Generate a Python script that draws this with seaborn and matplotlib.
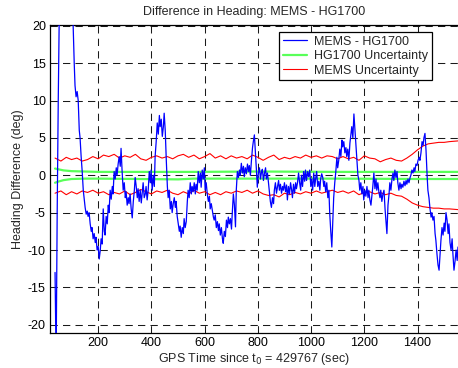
import matplotlib
matplotlib.use("Agg")
import matplotlib.pyplot as plt
import seaborn as sns
import pandas as pd

# ---------------- data ----------------
t_diff = [38, 42, 46, 50, 54, 60, 80, 102, 106, 110, 113, 117, 121, 125, 129, 132, 136, 140, 144, 147,
          151, 155, 159, 162, 166, 170, 174, 177, 181, 185, 189, 192, 196, 200, 204, 208,
          211, 215, 219, 223, 226, 230, 234, 238, 241, 245, 249, 253, 256, 260, 264, 268, 271, 275, 279,
          283, 286, 290, 294, 298, 302, 305, 309, 313, 316, 320, 324, 328, 332, 336, 339, 343, 347, 350,
          354, 358, 362, 365, 369, 373, 377, 380, 384, 388, 392, 396, 399, 403, 407, 411, 414, 418, 422,
          426, 430, 433, 437, 441, 445, 448, 452, 456, 460, 463, 467, 471, 475, 478, 482, 486, 490, 493,
          497, 501, 505, 508, 512, 516, 520, 523, 527, 531, 535, 538, 542, 546, 550, 553, 557, 561, 565,
          568, 572, 576, 580, 584, 587, 591, 595, 599, 602, 606, 610, 614, 618, 621, 625, 629, 633, 636,
          640, 644, 648, 652, 655, 659, 663, 667, 670, 674, 678, 682, 686, 689, 693, 697, 701, 704, 708,
          712, 716, 719, 723, 727, 731, 734, 738, 742, 746, 749, 753, 757, 761, 765, 768, 772, 776, 780,
          783, 787, 791, 795, 798, 802, 806, 810, 814, 817, 821, 825, 829, 832, 836, 840, 844, 847, 851,
          855, 859, 862, 866, 870, 874, 878, 881, 885, 889, 893, 896, 900, 904, 908, 911, 915, 919, 923,
          927, 930, 934, 938, 942, 945, 949, 953, 957, 961, 964, 968, 972, 976, 979, 983, 987, 991, 995,
          999, 1002, 1006, 1010, 1014, 1017, 1021, 1025, 1029, 1033, 1036, 1040, 1044, 1048, 1051, 1055,
          1059, 1063, 1067, 1070, 1074, 1078, 1082, 1085, 1089, 1093, 1097, 1100, 1104, 1108, 1112, 1116,
          1119, 1123, 1127, 1131, 1134, 1138, 1142, 1146, 1150, 1153, 1157, 1161, 1165, 1168, 1172, 1176,
          1180, 1183, 1187, 1191, 1195, 1198, 1202, 1206, 1210, 1214, 1217, 1221, 1225, 1229, 1232, 1236,
          1240, 1244, 1247, 1251, 1255, 1259, 1262, 1266, 1270, 1274, 1278, 1281, 1285, 1289, 1293, 1296,
          1300, 1304, 1308, 1311, 1315, 1319, 1323, 1326, 1330, 1334, 1338, 1341, 1345, 1349, 1353, 1357,
          1360, 1364, 1368, 1372, 1375, 1379, 1383, 1387, 1390, 1394, 1398, 1402, 1406, 1409, 1413, 1417,
          1421, 1424, 1428, 1432, 1436, 1439, 1443, 1447, 1451, 1454, 1458, 1462, 1466, 1469, 1473, 1477,
          1481, 1484, 1488, 1492, 1496, 1500, 1503, 1507, 1511, 1515, 1518, 1522, 1526, 1530, 1533, 1537,
          1541, 1545, 1549, 1552]
heading_diff = [-13, -25, -5, 10, 22, 30, 32, 28, 20, 15, 12, 10.5, 11.2, 10, 6, 5, 2.5, 0.5, -2, -3,
                -4.3, -5.2, -4.8, -5.5, -5, -6.5, -7.5, -7, -8.5, -7.8, -9, -8.3, -10, -9.5, -11.2, -10,
                -8.5, -9.2, -4.5, -7.5, -8, -5.5, -6.5, -4, -5, -2, -3.2, -1.5, -2.5, 0.5, -0.5, 1.0, 0, 1.5, 2.5,
                1.2, 3.6, 0.5, -2, -1, -3, -2.2, -4, -3, -3.8, -2.5, -4.5, -5.7, -3.5, -2, -0.3, -1.5, -3, -1.8,
                -3.5, -2, -3.7, -2.5, -1, -3, -2.5, -1.5, -3.3, -2, 0.5, -1, 0.7, -2, 0, -1.5, 2.5, 4.5, 7,
                5.5, 8.0, 6.5, 7.5, 5.2, 6.5, 8.3, 6, 2, -1.5, -3, -2, -4.5, -3.5, -5, -3.8, -3, -4.3, -3.5,
                -5.5, -6.5, -7.5, -6.8, -8.3, -7, -7.8, -5.8, -7, -6.2, -3.5, -2, -3, -1, -2.5, -1.5, -2.2, -1, -2.5,
                -1.2, -2, 0.5, -1, 0.3, -1.6, 0.7, -0.5, 1.0, -2, -1, -2.5, -3.5, -2.8, -4.5, -3.8, -4.7, -5.6, -6,
                -5.3, -7, -6.2, -7.4, -6.5, -8, -7, -8.5, -9.1, -7.5, -8.2, -6, -7, -5.6, -6.5, -5.8, -7.2, -5, -2.5,
                -4, -6.9, -2, 0.5, -0.3, 0.7, 0, 1.6, 0.3, 1.2, -0.2, 1.0, 0.2, 1.5, 0.5, 1.3, 0, 2, 3.7,
                4.5, 5.4, 3, 0.5, -1.6, 0.3, 1, -0.5, 0.5, 0.8, -0.7, 0.3, 1, -0.5, 0.3, -1, -2.5, -3.5, -4.3,
                -3, -3.8, -2, -1, -2.4, -1.5, -0.7, -2, -1.2, -2.4, -1.5, -2, -1, -2.2, -1.3, -3.3, -1.5, -2.5, -1,
                -2, -3, -1.2, -2.4, -1, -1.8, -1, 0.3, -1, -2, 0, -1.5, 0.5, -0.8, 0.7, -0.7, 0.5, -0.2, 0.7,
                -1.5, -0.5, -2, 0.3, -1.5, -0.5, 0.5, -1.5, -0.8, -2, -0.5, 0.2, -0.3, -1.5, -0.8, -2.2,
                -1, -3, -2, -5, -7.5, -9.6, -6, -3, -1, 0.5, 2.4, 1, 2, 3.5, 2.5, 4.7,
                3.8, 4.5, 3, 3.7, 2.5, 3.5, 2, 4.3, 5.5, 6.5, 5, 8.2, 6, 4.3, 2, 0,
                -0.7, -2, -1, -2.5, -1.5, -3.3, -2, -2.8, -1.5, -3, -2, -3.3, -4, -2.5, -1.5, 0.3,
                -1.8, -0.5, -2, -1, -2.3, -3, -2, -3.5, -2.5, -2, -4.5, -6, -7.8, -4, -2.5, -1,
                -2, -0.5, 0.3, -0.7, 0.7, -0.3, 0.5, -1, -2, -1, -1.8, -1.2, -1.6, -0.8, -1.4, -0.7,
                -1.2, -0.5, -1, -0.3, 0, 0.7, 0.3, 1, 0.5, 1.5, 1.3, 2, 2.4, 2, 3, 4.5,
                4, 5, 5.6, 3.3, 0, -2, -3, -4.5, -5.6, -5, -6, -5.5, -7.8, -8.7, -10.5, -12,
                -12.7, -11, -8.7, -7, -8, -6.4, -7.5, -5, -6, -7.8, -6.5, -9, -10, -8.5, -10.5, -12.7,
                -11.5, -10, -11.4, -9.6]

t_unc = [38, 60, 80, 100, 120, 140, 160, 180, 200, 220, 240, 260, 280, 300, 320, 340, 360, 380, 400,
         420, 440, 460, 480, 500, 520, 540, 560, 580, 600, 620, 640, 660, 680, 700, 720, 740, 760, 780,
         800, 820, 840, 860, 880, 900, 920, 940, 960, 980, 1000, 1020, 1040, 1060, 1080, 1100, 1120,
         1140, 1160, 1180, 1200, 1220, 1240, 1260, 1280, 1300, 1320, 1340, 1360, 1380, 1400, 1420,
         1440, 1460, 1480, 1500, 1520, 1554]
mems_upper = [2.3, 1.9, 2.4, 2.1, 2.3, 1.9, 2.1, 2.5, 2.2, 2.7, 2.5, 2.8, 2.3, 2.6, 2.4, 2.8, 2.2, 2.0, 2.4,
              2.6, 2.3, 2.5, 2.2, 2.6, 2.8, 2.4, 2.7, 2.2, 2.5, 2.9, 2.3, 2.6, 2.2, 2.6, 2.3, 2.5, 2.2, 2.7,
              2.4, 2.0, 2.4, 2.7, 2.1, 2.4, 2.2, 2.5, 2.3, 2.7, 2.4, 2.6, 2.3, 2.6, 2.5, 2.2, 2.5,
              2.2, 2.4, 2.0, 2.6, 2.3, 2.2, 1.8, 2.1, 2.3, 2.0, 1.9, 2.3, 2.8, 3.4, 3.9,
              4.2, 4.3, 4.4, 4.4, 4.5, 4.6]
mems_lower = [-2.4, -2.1, -2.6, -2.2, -2.5, -2.1, -2.3, -2.0, -2.4, -2.2, -2.6, -2.3, -2.5, -2.1, -2.6, -2.3,
              -1.9, -2.2, -2.5, -2.1, -2.3, -2.0, -2.4, -2.6, -2.2, -2.5, -2.0, -2.4, -2.2, -2.6, -2.3, -2.6,
              -2.2, -2.4, -2.1, -2.3, -2.0, -2.4, -2.1, -2.5, -2.7, -2.6, -2.9, -2.4, -2.6, -2.3, -2.5, -2.2,
              -2.4, -2.1, -2.4, -2.2, -2.0, -2.3, -2.1, -2.4, -2.1, -2.6, -2.3, -2.2, -2.5, -2.3, -2.6, -2.4,
              -2.7, -2.8, -3.2, -3.7, -4.0, -4.2, -4.3, -4.4, -4.4, -4.5, -4.5, -4.6]

t_hg = [38, 50, 70, 100, 150, 200, 500, 560, 800, 1100, 1400, 1554]
hg_upper = [0.9, 0.8, 0.65, 0.55, 0.5, 0.45, 0.45, 0.45, 0.5, 0.45, 0.45, 0.45]
hg_lower = [-1.0, -0.85, -0.65, -0.5, -0.45, -0.45, -0.55, -0.45, -0.45, -0.45, -0.5, -0.5]

x_ticks = [200, 400, 600, 800, 1000, 1200, 1400]
y_ticks = [-20, -15, -10, -5, 0, 5, 10, 15, 20]

# ---------------- style ----------------
sns.set_style("white")
plt.rcParams['font.family'] = ['Liberation Sans', 'DejaVu Sans']
plt.rcParams['font.size'] = 9

fig = plt.figure(figsize=(4.58, 3.68), dpi=100)
ax = fig.add_axes([50 / 458, 35 / 368, 408.5 / 458, 308 / 368])

df_diff = pd.DataFrame({"t": t_diff, "v": heading_diff})
df_mu = pd.DataFrame({"t": t_unc, "v": mems_upper})
df_ml = pd.DataFrame({"t": t_unc, "v": mems_lower})
df_hu = pd.DataFrame({"t": t_hg, "v": hg_upper})
df_hl = pd.DataFrame({"t": t_hg, "v": hg_lower})

blue = (0, 0, 1)
green = (0.35, 1.0, 0.35)
red = (1, 0, 0)

sns.lineplot(data=df_diff, x="t", y="v", ax=ax, color=blue, lw=0.9, estimator=None, sort=False,
             label="MEMS - HG1700", zorder=3)
sns.lineplot(data=df_hu, x="t", y="v", ax=ax, color=green, lw=1.6, estimator=None, sort=False,
             label="HG1700 Uncertainty", zorder=2)
sns.lineplot(data=df_hl, x="t", y="v", ax=ax, color=green, lw=1.6, estimator=None, sort=False,
             label="_nolegend_", zorder=2)
sns.lineplot(data=df_mu, x="t", y="v", ax=ax, color=red, lw=0.8, estimator=None, sort=False,
             label="MEMS Uncertainty", zorder=2)
sns.lineplot(data=df_ml, x="t", y="v", ax=ax, color=red, lw=0.8, estimator=None, sort=False,
             label="_nolegend_", zorder=2)

ax.set_xlim(19, 1554)
ax.set_ylim(-21.1, 20.1)
ax.set_xticks(x_ticks)
ax.set_yticks(y_ticks)
ax.set_xticklabels([str(v) for v in x_ticks])
ax.set_yticklabels([str(v) for v in y_ticks])
ax.tick_params(direction="in", length=3, width=0.6, colors="black", labelsize=9, pad=3)

ax.grid(True, color="0.1", linestyle=(0, (7, 5)), linewidth=0.75)
ax.set_axisbelow(True)
for s in ax.spines.values():
    s.set_color("black")
    s.set_linewidth(0.9)

ax.set_title("Difference in Heading: MEMS - HG1700", fontsize=9, pad=7)
ax.set_xlabel("GPS Time since t$_0$ = 429767 (sec)", fontsize=9, labelpad=1)
ax.set_ylabel("Heading Difference (deg)", fontsize=9, labelpad=3)

leg = ax.legend(loc="upper right", bbox_to_anchor=((432 - 50) / 408.5, (333 - 32) / 308),
                fontsize=9, frameon=True, fancybox=False, framealpha=1, edgecolor="black",
                handlelength=1.9, handletextpad=0.6, labelspacing=0.2, borderpad=0.3,
                borderaxespad=0)
leg.get_frame().set_linewidth(0.9)

fig.savefig("out.png", dpi=100)
